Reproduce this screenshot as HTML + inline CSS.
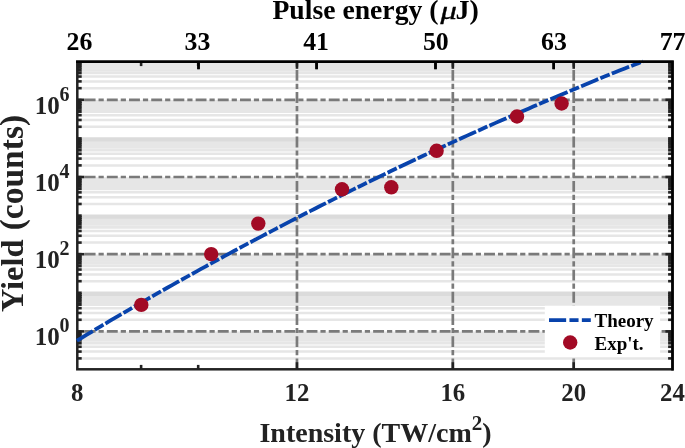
<!DOCTYPE html><html><head><meta charset="utf-8"><style>html,body{margin:0;padding:0;background:#fff}</style></head><body><svg width="685" height="448" viewBox="0 0 685 448" style="display:block;will-change:transform;opacity:0.999">
<rect width="685" height="448" fill="#fff"/>
<g stroke="#e6e6e6" stroke-width="2.5">
<line x1="77.3" x2="672.5" y1="358.38" y2="358.38"/>
<line x1="77.3" x2="672.5" y1="351.58" y2="351.58"/>
<line x1="77.3" x2="672.5" y1="346.76" y2="346.76"/>
<line x1="77.3" x2="672.5" y1="343.02" y2="343.02" stroke-width="3.1"/>
<line x1="77.3" x2="672.5" y1="339.96" y2="339.96" stroke-width="3.1"/>
<line x1="77.3" x2="672.5" y1="337.38" y2="337.38" stroke-width="3.1"/>
<line x1="77.3" x2="672.5" y1="335.14" y2="335.14" stroke-width="3.1"/>
<line x1="77.3" x2="672.5" y1="333.17" y2="333.17" stroke-width="3.1"/>
<line x1="77.3" x2="672.5" y1="319.78" y2="319.78"/>
<line x1="77.3" x2="672.5" y1="312.98" y2="312.98"/>
<line x1="77.3" x2="672.5" y1="308.16" y2="308.16"/>
<line x1="77.3" x2="672.5" y1="304.42" y2="304.42" stroke-width="3.1"/>
<line x1="77.3" x2="672.5" y1="301.36" y2="301.36" stroke-width="3.1"/>
<line x1="77.3" x2="672.5" y1="298.78" y2="298.78" stroke-width="3.1"/>
<line x1="77.3" x2="672.5" y1="296.54" y2="296.54" stroke-width="3.1"/>
<line x1="77.3" x2="672.5" y1="294.57" y2="294.57" stroke-width="3.1"/>
<line x1="77.3" x2="672.5" y1="281.18" y2="281.18"/>
<line x1="77.3" x2="672.5" y1="274.38" y2="274.38"/>
<line x1="77.3" x2="672.5" y1="269.56" y2="269.56"/>
<line x1="77.3" x2="672.5" y1="265.82" y2="265.82" stroke-width="3.1"/>
<line x1="77.3" x2="672.5" y1="262.76" y2="262.76" stroke-width="3.1"/>
<line x1="77.3" x2="672.5" y1="260.18" y2="260.18" stroke-width="3.1"/>
<line x1="77.3" x2="672.5" y1="257.94" y2="257.94" stroke-width="3.1"/>
<line x1="77.3" x2="672.5" y1="255.97" y2="255.97" stroke-width="3.1"/>
<line x1="77.3" x2="672.5" y1="242.58" y2="242.58"/>
<line x1="77.3" x2="672.5" y1="235.78" y2="235.78"/>
<line x1="77.3" x2="672.5" y1="230.96" y2="230.96"/>
<line x1="77.3" x2="672.5" y1="227.22" y2="227.22" stroke-width="3.1"/>
<line x1="77.3" x2="672.5" y1="224.16" y2="224.16" stroke-width="3.1"/>
<line x1="77.3" x2="672.5" y1="221.58" y2="221.58" stroke-width="3.1"/>
<line x1="77.3" x2="672.5" y1="219.34" y2="219.34" stroke-width="3.1"/>
<line x1="77.3" x2="672.5" y1="217.37" y2="217.37" stroke-width="3.1"/>
<line x1="77.3" x2="672.5" y1="203.98" y2="203.98"/>
<line x1="77.3" x2="672.5" y1="197.18" y2="197.18"/>
<line x1="77.3" x2="672.5" y1="192.36" y2="192.36"/>
<line x1="77.3" x2="672.5" y1="188.62" y2="188.62" stroke-width="3.1"/>
<line x1="77.3" x2="672.5" y1="185.56" y2="185.56" stroke-width="3.1"/>
<line x1="77.3" x2="672.5" y1="182.98" y2="182.98" stroke-width="3.1"/>
<line x1="77.3" x2="672.5" y1="180.74" y2="180.74" stroke-width="3.1"/>
<line x1="77.3" x2="672.5" y1="178.77" y2="178.77" stroke-width="3.1"/>
<line x1="77.3" x2="672.5" y1="165.38" y2="165.38"/>
<line x1="77.3" x2="672.5" y1="158.58" y2="158.58"/>
<line x1="77.3" x2="672.5" y1="153.76" y2="153.76"/>
<line x1="77.3" x2="672.5" y1="150.02" y2="150.02" stroke-width="3.1"/>
<line x1="77.3" x2="672.5" y1="146.96" y2="146.96" stroke-width="3.1"/>
<line x1="77.3" x2="672.5" y1="144.38" y2="144.38" stroke-width="3.1"/>
<line x1="77.3" x2="672.5" y1="142.14" y2="142.14" stroke-width="3.1"/>
<line x1="77.3" x2="672.5" y1="140.17" y2="140.17" stroke-width="3.1"/>
<line x1="77.3" x2="672.5" y1="126.78" y2="126.78"/>
<line x1="77.3" x2="672.5" y1="119.98" y2="119.98"/>
<line x1="77.3" x2="672.5" y1="115.16" y2="115.16"/>
<line x1="77.3" x2="672.5" y1="111.42" y2="111.42" stroke-width="3.1"/>
<line x1="77.3" x2="672.5" y1="108.36" y2="108.36" stroke-width="3.1"/>
<line x1="77.3" x2="672.5" y1="105.78" y2="105.78" stroke-width="3.1"/>
<line x1="77.3" x2="672.5" y1="103.54" y2="103.54" stroke-width="3.1"/>
<line x1="77.3" x2="672.5" y1="101.57" y2="101.57" stroke-width="3.1"/>
<line x1="77.3" x2="672.5" y1="88.18" y2="88.18"/>
<line x1="77.3" x2="672.5" y1="81.38" y2="81.38"/>
<line x1="77.3" x2="672.5" y1="76.56" y2="76.56"/>
<line x1="77.3" x2="672.5" y1="72.82" y2="72.82" stroke-width="3.1"/>
<line x1="77.3" x2="672.5" y1="69.76" y2="69.76" stroke-width="3.1"/>
<line x1="77.3" x2="672.5" y1="67.18" y2="67.18" stroke-width="3.1"/>
<line x1="77.3" x2="672.5" y1="64.94" y2="64.94" stroke-width="3.1"/>
<line x1="77.3" x2="672.5" y1="62.97" y2="62.97" stroke-width="3.1"/>
</g>
<g stroke="#dbdbdb" stroke-width="4.4">
<line x1="77.3" x2="672.5" y1="293.80" y2="293.80"/>
<line x1="77.3" x2="672.5" y1="216.60" y2="216.60"/>
<line x1="77.3" x2="672.5" y1="139.40" y2="139.40"/>
</g>
<g stroke="#7a7a7a" stroke-width="2.7" stroke-dasharray="10.9 3.1 5.2 2.99" fill="none">
<path d="M672.5 331.40H77.3"/>
<path d="M672.5 254.20H77.3"/>
<path d="M672.5 177.00H77.3"/>
<path d="M672.5 99.80H77.3"/>
<path d="M296.97 369.3V61.7"/>
<path d="M452.83 369.3V61.7"/>
<path d="M573.72 369.3V61.7"/>
</g>
<g stroke="#222" stroke-width="2.6">
<line x1="77.3" x2="81.7" y1="358.38" y2="358.38"/>
<line x1="672.5" x2="668.1" y1="358.38" y2="358.38"/>
<line x1="77.3" x2="81.7" y1="351.58" y2="351.58"/>
<line x1="672.5" x2="668.1" y1="351.58" y2="351.58"/>
<line x1="77.3" x2="81.7" y1="346.76" y2="346.76"/>
<line x1="672.5" x2="668.1" y1="346.76" y2="346.76"/>
<line x1="77.3" x2="81.7" y1="343.02" y2="343.02" stroke-width="3.1"/>
<line x1="672.5" x2="668.1" y1="343.02" y2="343.02" stroke-width="3.1"/>
<line x1="77.3" x2="81.7" y1="339.96" y2="339.96" stroke-width="3.1"/>
<line x1="672.5" x2="668.1" y1="339.96" y2="339.96" stroke-width="3.1"/>
<line x1="77.3" x2="81.7" y1="337.38" y2="337.38" stroke-width="3.1"/>
<line x1="672.5" x2="668.1" y1="337.38" y2="337.38" stroke-width="3.1"/>
<line x1="77.3" x2="81.7" y1="335.14" y2="335.14" stroke-width="3.1"/>
<line x1="672.5" x2="668.1" y1="335.14" y2="335.14" stroke-width="3.1"/>
<line x1="77.3" x2="81.7" y1="333.17" y2="333.17" stroke-width="3.1"/>
<line x1="672.5" x2="668.1" y1="333.17" y2="333.17" stroke-width="3.1"/>
<line x1="77.3" x2="84.39999999999999" y1="331.40" y2="331.40"/>
<line x1="672.5" x2="665.4" y1="331.40" y2="331.40"/>
<line x1="77.3" x2="81.7" y1="319.78" y2="319.78"/>
<line x1="672.5" x2="668.1" y1="319.78" y2="319.78"/>
<line x1="77.3" x2="81.7" y1="312.98" y2="312.98"/>
<line x1="672.5" x2="668.1" y1="312.98" y2="312.98"/>
<line x1="77.3" x2="81.7" y1="308.16" y2="308.16"/>
<line x1="672.5" x2="668.1" y1="308.16" y2="308.16"/>
<line x1="77.3" x2="81.7" y1="304.42" y2="304.42" stroke-width="3.1"/>
<line x1="672.5" x2="668.1" y1="304.42" y2="304.42" stroke-width="3.1"/>
<line x1="77.3" x2="81.7" y1="301.36" y2="301.36" stroke-width="3.1"/>
<line x1="672.5" x2="668.1" y1="301.36" y2="301.36" stroke-width="3.1"/>
<line x1="77.3" x2="81.7" y1="298.78" y2="298.78" stroke-width="3.1"/>
<line x1="672.5" x2="668.1" y1="298.78" y2="298.78" stroke-width="3.1"/>
<line x1="77.3" x2="81.7" y1="296.54" y2="296.54" stroke-width="3.1"/>
<line x1="672.5" x2="668.1" y1="296.54" y2="296.54" stroke-width="3.1"/>
<line x1="77.3" x2="81.7" y1="294.57" y2="294.57" stroke-width="3.1"/>
<line x1="672.5" x2="668.1" y1="294.57" y2="294.57" stroke-width="3.1"/>
<line x1="77.3" x2="81.7" y1="292.80" y2="292.80"/>
<line x1="672.5" x2="668.1" y1="292.80" y2="292.80"/>
<line x1="77.3" x2="81.7" y1="281.18" y2="281.18"/>
<line x1="672.5" x2="668.1" y1="281.18" y2="281.18"/>
<line x1="77.3" x2="81.7" y1="274.38" y2="274.38"/>
<line x1="672.5" x2="668.1" y1="274.38" y2="274.38"/>
<line x1="77.3" x2="81.7" y1="269.56" y2="269.56"/>
<line x1="672.5" x2="668.1" y1="269.56" y2="269.56"/>
<line x1="77.3" x2="81.7" y1="265.82" y2="265.82" stroke-width="3.1"/>
<line x1="672.5" x2="668.1" y1="265.82" y2="265.82" stroke-width="3.1"/>
<line x1="77.3" x2="81.7" y1="262.76" y2="262.76" stroke-width="3.1"/>
<line x1="672.5" x2="668.1" y1="262.76" y2="262.76" stroke-width="3.1"/>
<line x1="77.3" x2="81.7" y1="260.18" y2="260.18" stroke-width="3.1"/>
<line x1="672.5" x2="668.1" y1="260.18" y2="260.18" stroke-width="3.1"/>
<line x1="77.3" x2="81.7" y1="257.94" y2="257.94" stroke-width="3.1"/>
<line x1="672.5" x2="668.1" y1="257.94" y2="257.94" stroke-width="3.1"/>
<line x1="77.3" x2="81.7" y1="255.97" y2="255.97" stroke-width="3.1"/>
<line x1="672.5" x2="668.1" y1="255.97" y2="255.97" stroke-width="3.1"/>
<line x1="77.3" x2="84.39999999999999" y1="254.20" y2="254.20"/>
<line x1="672.5" x2="665.4" y1="254.20" y2="254.20"/>
<line x1="77.3" x2="81.7" y1="242.58" y2="242.58"/>
<line x1="672.5" x2="668.1" y1="242.58" y2="242.58"/>
<line x1="77.3" x2="81.7" y1="235.78" y2="235.78"/>
<line x1="672.5" x2="668.1" y1="235.78" y2="235.78"/>
<line x1="77.3" x2="81.7" y1="230.96" y2="230.96"/>
<line x1="672.5" x2="668.1" y1="230.96" y2="230.96"/>
<line x1="77.3" x2="81.7" y1="227.22" y2="227.22" stroke-width="3.1"/>
<line x1="672.5" x2="668.1" y1="227.22" y2="227.22" stroke-width="3.1"/>
<line x1="77.3" x2="81.7" y1="224.16" y2="224.16" stroke-width="3.1"/>
<line x1="672.5" x2="668.1" y1="224.16" y2="224.16" stroke-width="3.1"/>
<line x1="77.3" x2="81.7" y1="221.58" y2="221.58" stroke-width="3.1"/>
<line x1="672.5" x2="668.1" y1="221.58" y2="221.58" stroke-width="3.1"/>
<line x1="77.3" x2="81.7" y1="219.34" y2="219.34" stroke-width="3.1"/>
<line x1="672.5" x2="668.1" y1="219.34" y2="219.34" stroke-width="3.1"/>
<line x1="77.3" x2="81.7" y1="217.37" y2="217.37" stroke-width="3.1"/>
<line x1="672.5" x2="668.1" y1="217.37" y2="217.37" stroke-width="3.1"/>
<line x1="77.3" x2="81.7" y1="215.60" y2="215.60"/>
<line x1="672.5" x2="668.1" y1="215.60" y2="215.60"/>
<line x1="77.3" x2="81.7" y1="203.98" y2="203.98"/>
<line x1="672.5" x2="668.1" y1="203.98" y2="203.98"/>
<line x1="77.3" x2="81.7" y1="197.18" y2="197.18"/>
<line x1="672.5" x2="668.1" y1="197.18" y2="197.18"/>
<line x1="77.3" x2="81.7" y1="192.36" y2="192.36"/>
<line x1="672.5" x2="668.1" y1="192.36" y2="192.36"/>
<line x1="77.3" x2="81.7" y1="188.62" y2="188.62" stroke-width="3.1"/>
<line x1="672.5" x2="668.1" y1="188.62" y2="188.62" stroke-width="3.1"/>
<line x1="77.3" x2="81.7" y1="185.56" y2="185.56" stroke-width="3.1"/>
<line x1="672.5" x2="668.1" y1="185.56" y2="185.56" stroke-width="3.1"/>
<line x1="77.3" x2="81.7" y1="182.98" y2="182.98" stroke-width="3.1"/>
<line x1="672.5" x2="668.1" y1="182.98" y2="182.98" stroke-width="3.1"/>
<line x1="77.3" x2="81.7" y1="180.74" y2="180.74" stroke-width="3.1"/>
<line x1="672.5" x2="668.1" y1="180.74" y2="180.74" stroke-width="3.1"/>
<line x1="77.3" x2="81.7" y1="178.77" y2="178.77" stroke-width="3.1"/>
<line x1="672.5" x2="668.1" y1="178.77" y2="178.77" stroke-width="3.1"/>
<line x1="77.3" x2="84.39999999999999" y1="177.00" y2="177.00"/>
<line x1="672.5" x2="665.4" y1="177.00" y2="177.00"/>
<line x1="77.3" x2="81.7" y1="165.38" y2="165.38"/>
<line x1="672.5" x2="668.1" y1="165.38" y2="165.38"/>
<line x1="77.3" x2="81.7" y1="158.58" y2="158.58"/>
<line x1="672.5" x2="668.1" y1="158.58" y2="158.58"/>
<line x1="77.3" x2="81.7" y1="153.76" y2="153.76"/>
<line x1="672.5" x2="668.1" y1="153.76" y2="153.76"/>
<line x1="77.3" x2="81.7" y1="150.02" y2="150.02" stroke-width="3.1"/>
<line x1="672.5" x2="668.1" y1="150.02" y2="150.02" stroke-width="3.1"/>
<line x1="77.3" x2="81.7" y1="146.96" y2="146.96" stroke-width="3.1"/>
<line x1="672.5" x2="668.1" y1="146.96" y2="146.96" stroke-width="3.1"/>
<line x1="77.3" x2="81.7" y1="144.38" y2="144.38" stroke-width="3.1"/>
<line x1="672.5" x2="668.1" y1="144.38" y2="144.38" stroke-width="3.1"/>
<line x1="77.3" x2="81.7" y1="142.14" y2="142.14" stroke-width="3.1"/>
<line x1="672.5" x2="668.1" y1="142.14" y2="142.14" stroke-width="3.1"/>
<line x1="77.3" x2="81.7" y1="140.17" y2="140.17" stroke-width="3.1"/>
<line x1="672.5" x2="668.1" y1="140.17" y2="140.17" stroke-width="3.1"/>
<line x1="77.3" x2="81.7" y1="138.40" y2="138.40"/>
<line x1="672.5" x2="668.1" y1="138.40" y2="138.40"/>
<line x1="77.3" x2="81.7" y1="126.78" y2="126.78"/>
<line x1="672.5" x2="668.1" y1="126.78" y2="126.78"/>
<line x1="77.3" x2="81.7" y1="119.98" y2="119.98"/>
<line x1="672.5" x2="668.1" y1="119.98" y2="119.98"/>
<line x1="77.3" x2="81.7" y1="115.16" y2="115.16"/>
<line x1="672.5" x2="668.1" y1="115.16" y2="115.16"/>
<line x1="77.3" x2="81.7" y1="111.42" y2="111.42" stroke-width="3.1"/>
<line x1="672.5" x2="668.1" y1="111.42" y2="111.42" stroke-width="3.1"/>
<line x1="77.3" x2="81.7" y1="108.36" y2="108.36" stroke-width="3.1"/>
<line x1="672.5" x2="668.1" y1="108.36" y2="108.36" stroke-width="3.1"/>
<line x1="77.3" x2="81.7" y1="105.78" y2="105.78" stroke-width="3.1"/>
<line x1="672.5" x2="668.1" y1="105.78" y2="105.78" stroke-width="3.1"/>
<line x1="77.3" x2="81.7" y1="103.54" y2="103.54" stroke-width="3.1"/>
<line x1="672.5" x2="668.1" y1="103.54" y2="103.54" stroke-width="3.1"/>
<line x1="77.3" x2="81.7" y1="101.57" y2="101.57" stroke-width="3.1"/>
<line x1="672.5" x2="668.1" y1="101.57" y2="101.57" stroke-width="3.1"/>
<line x1="77.3" x2="84.39999999999999" y1="99.80" y2="99.80"/>
<line x1="672.5" x2="665.4" y1="99.80" y2="99.80"/>
<line x1="77.3" x2="81.7" y1="88.18" y2="88.18"/>
<line x1="672.5" x2="668.1" y1="88.18" y2="88.18"/>
<line x1="77.3" x2="81.7" y1="81.38" y2="81.38"/>
<line x1="672.5" x2="668.1" y1="81.38" y2="81.38"/>
<line x1="77.3" x2="81.7" y1="76.56" y2="76.56"/>
<line x1="672.5" x2="668.1" y1="76.56" y2="76.56"/>
<line x1="77.3" x2="81.7" y1="72.82" y2="72.82" stroke-width="3.1"/>
<line x1="672.5" x2="668.1" y1="72.82" y2="72.82" stroke-width="3.1"/>
<line x1="77.3" x2="81.7" y1="69.76" y2="69.76" stroke-width="3.1"/>
<line x1="672.5" x2="668.1" y1="69.76" y2="69.76" stroke-width="3.1"/>
<line x1="77.3" x2="81.7" y1="67.18" y2="67.18" stroke-width="3.1"/>
<line x1="672.5" x2="668.1" y1="67.18" y2="67.18" stroke-width="3.1"/>
<line x1="77.3" x2="81.7" y1="64.94" y2="64.94" stroke-width="3.1"/>
<line x1="672.5" x2="668.1" y1="64.94" y2="64.94" stroke-width="3.1"/>
<line x1="77.3" x2="81.7" y1="62.97" y2="62.97" stroke-width="3.1"/>
<line x1="672.5" x2="668.1" y1="62.97" y2="62.97" stroke-width="3.1"/>
<line x1="141.11" x2="141.11" y1="369.3" y2="364.90000000000003"/>
<line x1="141.11" x2="141.11" y1="61.7" y2="66.10000000000001"/>
<line x1="198.19" x2="198.19" y1="369.3" y2="364.90000000000003"/>
<line x1="198.19" x2="198.19" y1="61.7" y2="66.10000000000001"/>
<line x1="296.97" x2="296.97" y1="369.3" y2="362.2"/>
<line x1="296.97" x2="296.97" y1="61.7" y2="68.8"/>
<line x1="452.83" x2="452.83" y1="369.3" y2="362.2"/>
<line x1="452.83" x2="452.83" y1="61.7" y2="68.8"/>
<line x1="573.72" x2="573.72" y1="369.3" y2="362.2"/>
<line x1="573.72" x2="573.72" y1="61.7" y2="68.8"/>
<line x1="198.5" x2="198.5" y1="61.7" y2="69.2"/>
<line x1="316.6" x2="316.6" y1="61.7" y2="69.2"/>
<line x1="435.5" x2="435.5" y1="61.7" y2="69.2"/>
<line x1="553.7" x2="553.7" y1="61.7" y2="69.2"/>
</g>
<rect x="77.3" y="61.7" width="595.2" height="307.6" fill="none" stroke="#222" stroke-width="2.5"/>
<clipPath id="cp"><rect x="77.3" y="61.7" width="595.2" height="307.6"/></clipPath>
<clipPath id="cp2"><rect x="76.05" y="59.400000000000006" width="597.7" height="311.1"/></clipPath>
<path d="M76.90 340.66 L81.66 337.77 L86.42 334.89 L91.18 332.03 L95.94 329.18 L100.69 326.34 L105.45 323.52 L110.21 320.70 L114.97 317.90 L119.73 315.11 L124.49 312.33 L129.25 309.56 L134.01 306.81 L138.76 304.06 L143.52 301.32 L148.28 298.59 L153.04 295.87 L157.80 293.16 L162.56 290.46 L167.32 287.77 L172.08 285.09 L176.84 282.42 L181.59 279.75 L186.35 277.10 L191.11 274.45 L195.87 271.82 L200.63 269.19 L205.39 266.57 L210.15 263.96 L214.91 261.36 L219.66 258.76 L224.42 256.18 L229.18 253.60 L233.94 251.04 L238.70 248.48 L243.46 245.93 L248.22 243.39 L252.98 240.85 L257.74 238.33 L262.49 235.81 L267.25 233.31 L272.01 230.81 L276.77 228.32 L281.53 225.83 L286.29 223.36 L291.05 220.90 L295.81 218.44 L300.56 215.99 L305.32 213.55 L310.08 211.12 L314.84 208.70 L319.60 206.28 L324.36 203.88 L329.12 201.48 L333.88 199.09 L338.64 196.71 L343.39 194.34 L348.15 191.97 L352.91 189.62 L357.67 187.27 L362.43 184.93 L367.19 182.60 L371.95 180.28 L376.71 177.97 L381.46 175.66 L386.22 173.37 L390.98 171.08 L395.74 168.80 L400.50 166.53 L405.26 164.27 L410.02 162.01 L414.78 159.77 L419.54 157.53 L424.29 155.30 L429.05 153.08 L433.81 150.87 L438.57 148.67 L443.33 146.47 L448.09 144.29 L452.85 142.11 L457.61 139.94 L462.36 137.78 L467.12 135.62 L471.88 133.48 L476.64 131.34 L481.40 129.22 L486.16 127.10 L490.92 124.99 L495.68 122.88 L500.44 120.79 L505.19 118.70 L509.95 116.63 L514.71 114.56 L519.47 112.50 L524.23 110.45 L528.99 108.40 L533.75 106.37 L538.51 104.34 L543.26 102.33 L548.02 100.32 L552.78 98.32 L557.54 96.32 L562.30 94.30 L567.06 92.26 L571.82 90.22 L576.58 88.19 L581.34 86.17 L586.09 84.15 L590.85 82.15 L595.61 80.15 L600.37 78.17 L605.13 76.26 L609.89 74.36 L614.65 72.47 L619.41 70.59 L624.16 68.71 L628.92 66.85 L633.68 64.99 L638.44 63.14 L643.20 61.30" fill="none" stroke="#0843ac" stroke-width="3.8" stroke-dasharray="18.6 2.3 10.05 2.3" clip-path="url(#cp2)"/>
<circle cx="141.3" cy="304.9" r="7.2" fill="#a20a25"/>
<circle cx="211.2" cy="254.1" r="7.2" fill="#a20a25"/>
<circle cx="258.3" cy="223.6" r="7.2" fill="#a20a25"/>
<circle cx="342" cy="189.3" r="7.2" fill="#a20a25"/>
<circle cx="391.3" cy="187.3" r="7.2" fill="#a20a25"/>
<circle cx="436.6" cy="150.8" r="7.2" fill="#a20a25"/>
<circle cx="517" cy="116.5" r="7.2" fill="#a20a25"/>
<circle cx="561.6" cy="103.5" r="7.2" fill="#a20a25"/>
<path d="M76.05 61.7H672.5V370.55" fill="none" stroke="#000" stroke-width="2.5"/>
<line x1="198.5" x2="198.5" y1="61.7" y2="69.2" stroke="#000" stroke-width="2.6"/>
<line x1="316.6" x2="316.6" y1="61.7" y2="69.2" stroke="#000" stroke-width="2.6"/>
<line x1="435.5" x2="435.5" y1="61.7" y2="69.2" stroke="#000" stroke-width="2.6"/>
<line x1="553.7" x2="553.7" y1="61.7" y2="69.2" stroke="#000" stroke-width="2.6"/>
<rect x="544.8" y="305.7" width="115.3" height="51.1" fill="#fff"/>
<path d="M549 320.1H590.8" stroke="#0843ac" stroke-width="3.7" stroke-dasharray="17.15 3.3 9.1 3.3"/>
<circle cx="570.2" cy="342.5" r="7.2" fill="#a20a25"/>
<g font-family="Liberation Serif, serif" font-weight="bold" fill="#222">
<text x="594.5" y="326.6" font-size="19" fill="#000">Theory</text>
<text x="594.5" y="349.7" font-size="19" fill="#000">Exp't.</text>
<text x="77.3" y="400.6" font-size="24.8" text-anchor="middle">8</text>
<text x="297.0" y="400.6" font-size="24.8" text-anchor="middle">12</text>
<text x="452.8" y="400.6" font-size="24.8" text-anchor="middle">16</text>
<text x="573.7" y="400.6" font-size="24.8" text-anchor="middle">20</text>
<text x="672.5" y="400.6" font-size="24.8" text-anchor="middle">24</text>
<text x="79.4" y="49.5" font-size="25.8" text-anchor="middle" fill="#000">26</text>
<text x="197.5" y="49.5" font-size="25.8" text-anchor="middle" fill="#000">33</text>
<text x="316.1" y="49.5" font-size="25.8" text-anchor="middle" fill="#000">41</text>
<text x="435.8" y="49.5" font-size="25.8" text-anchor="middle" fill="#000">50</text>
<text x="553.9" y="49.5" font-size="25.8" text-anchor="middle" fill="#000">63</text>
<text x="672.6" y="49.5" font-size="25.8" text-anchor="middle" fill="#000">77</text>
<text x="34.7" y="345.4" font-size="25">10<tspan font-size="20" dy="-13" dx="-0.2">0</tspan></text>
<text x="34.7" y="268.2" font-size="25">10<tspan font-size="20" dy="-13" dx="-0.2">2</tspan></text>
<text x="34.7" y="191.0" font-size="25">10<tspan font-size="20" dy="-13" dx="-0.2">4</tspan></text>
<text x="34.7" y="113.8" font-size="25">10<tspan font-size="20" dy="-13" dx="-0.2">6</tspan></text>
<text x="375.5" y="441.7" font-size="28" text-anchor="middle">Intensity (TW/cm<tspan font-size="21" dy="-12">2</tspan><tspan dy="12">)</tspan></text>
<text x="272.4" y="18.7" font-size="27.7" fill="#000">Pulse energy (</text>
<text transform="translate(440.4 18.7) scale(1.28 1)" font-size="25.5" font-style="italic" font-weight="normal" fill="#000" stroke="#000" stroke-width="0.35">μ</text>
<text x="455.6" y="18.7" font-size="28" fill="#000">J)</text>
<text transform="translate(23.4 312.1) rotate(-90)" font-size="32.4">Yield</text>
<text transform="translate(23.4 230.3) rotate(-90)" font-size="33.5">(counts)</text>
</g>
</svg></body></html>
